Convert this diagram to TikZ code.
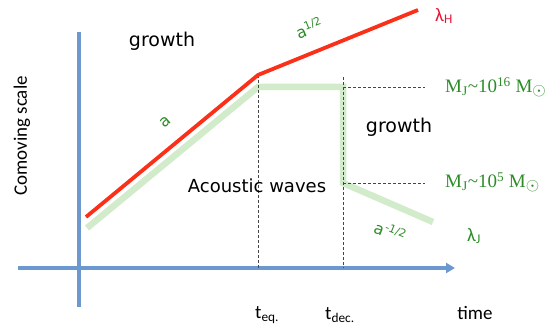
\documentclass[tikz,border=0pt]{standalone}
\usepackage{fontspec}
\setmainfont{Carlito}
\newfontfamily\comicf{DejaVu Sans}
\newfontfamily\serifM{Liberation Serif}
\usetikzlibrary{arrows.meta}
\definecolor{axisblue}{RGB}{106,152,207}
\definecolor{hred}{RGB}{250,48,25}
\definecolor{lred}{RGB}{232,20,50}
\definecolor{tgreen}{RGB}{45,140,40}
\definecolor{pgreen}{RGB}{210,236,203}
\definecolor{dgray}{RGB}{70,70,70}
\tikzset{
  axis/.style={draw=axisblue, line width=3.5pt},
  hline/.style={draw=hred, line width=3.8pt},
  jline/.style={draw=pgreen, line width=6.5pt},
  guide/.style={draw=dgray, line width=0.8pt, dash pattern=on 3pt off 2pt},
  comic/.style={font=\comicf\fontsize{19}{22}\selectfont, text=black},
  glab/.style={font=\comicf\fontsize{16}{18}\selectfont, text=tgreen},
  mlab/.style={font=\serifM\fontsize{19}{22}\selectfont, text=tgreen, anchor=west},
  clab/.style={font=\fontsize{19}{22}\selectfont, text=black}
}
\newcommand{\supx}[1]{\raisebox{0.42em}{\fontsize{11}{12}\selectfont #1}}
\newcommand{\sunsym}{\raisebox{-0.15em}{\fontsize{17}{18}\selectfont$\odot$}}
\begin{document}
\begin{tikzpicture}[x=1pt,y=-1pt, every node/.style={inner sep=0pt}]
\useasboundingbox (0,0) rectangle (546,331);
% coordinates
\coordinate (vtop) at (79,32);
\coordinate (vbot) at (79,307);
\coordinate (hl) at (18,268);
\coordinate (hr) at (455,268);
\coordinate (r0) at (86,217);
\coordinate (r1) at (258,75);
\coordinate (r2) at (418,10);
\coordinate (g0) at (87,228);
\coordinate (g1) at (258,87);
\coordinate (g2) at (343,87);
\coordinate (g3) at (343,183);
\coordinate (g4) at (433,222);
\coordinate (d1b) at (258,268);
\coordinate (d2t) at (343,77);
\coordinate (d2b) at (343,268);
\coordinate (h1e) at (425,87);
\coordinate (h2e) at (425,183);
% axes
\draw[axis] (vtop) -- (vbot);
\draw[axis, -{Triangle[length=9pt,width=10pt]}] (hl) -- (hr);
% Jeans line
\draw[jline] (g0) -- (g1) -- (g2) -- (g3) -- (g4);
% guides
\draw[guide] (r1) -- (d1b);
\draw[guide] (d2t) -- (d2b);
\draw[guide] (g2) -- (h1e);
\draw[guide] (g3) -- (h2e);
% horizon
\draw[hline] (r0) -- (r1) -- (r2);
% labels
\node[comic] (grow1) at (162,41) {growth};
\node[comic] (grow2) at (399,127) {growth};
\node[comic, font=\comicf\fontsize{18}{21}\selectfont] (acou) at (257,186) {Acoustic waves};
\node[glab, rotate=40] (la) at (165,122) {a};
\node[glab, rotate=22] (lahalf) at (309,28) {a\supx{1/2}};
\node[glab, rotate=-22] (lamhalf) at (390,232) {a\supx{-1/2}};
\node[clab, text=lred] (lamH) at (444,16) {λ\textsubscript{H}};
\node[clab, text=tgreen] (lamJ) at (474,236) {λ\textsubscript{J}};
\node[mlab] (mj16) at (445,87) {M\textsubscript{J}\textasciitilde10\textsuperscript{16} M\sunsym};
\node[mlab] (mj5) at (445,182) {M\textsubscript{J}\textasciitilde10\textsuperscript{5} M\sunsym};
\node[clab, anchor=west] (teq) at (255,315) {t\textsubscript{eq.}};
\node[clab, anchor=west] (tdec) at (325,315) {t\textsubscript{dec.}};
\node[clab] (time) at (475,313) {time};
\node[clab, rotate=90] (comov) at (22,136) {Comoving scale};
\end{tikzpicture}
\end{document}
